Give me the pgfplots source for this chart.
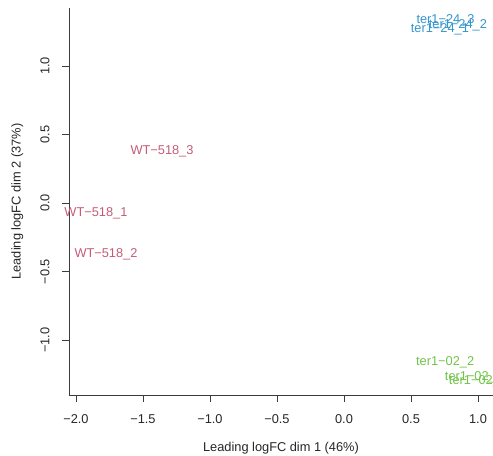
\documentclass[border=0pt]{standalone}
\usepackage{pgfplots}
\pgfplotsset{compat=1.18}
\usepackage{fontspec}
\setmainfont{Liberation Sans}
\definecolor{wtcol}{RGB}{196,92,120}
\definecolor{t24col}{RGB}{51,150,204}
\definecolor{t02col}{RGB}{112,196,72}
\definecolor{axcol}{RGB}{60,60,60}
\newcommand{\fs}{\fontsize{9.6}{11}\selectfont}
\begin{document}
\begin{tikzpicture}
\begin{axis}[
  scale only axis,
  width=318pt, height=290.25pt,
  xmin=-2.052, xmax=1.112,
  ymin=-1.401, ymax=1.423,
  axis lines*=left,
  axis line style={axcol, line width=0.6pt},
  tick style={axcol, line width=0.6pt},
  tick align=outside,
  major tick length=5pt,
  xtick={-2,-1.5,-1,-0.5,0,0.5,1},
  xticklabels={−2.0,−1.5,−1.0,−0.5,0.0,0.5,1.0},
  ytick={-1,-0.5,0,0.5,1},
  yticklabels={−1.0,−0.5,0.0,0.5,1.0},
  ticklabel style={font=\fs, text=black!85},
  xticklabel style={yshift=-6.5pt},
  yticklabel style={rotate=90, anchor=south, yshift=6pt},
  xlabel={Leading logFC dim 1 (46\%)},
  ylabel={Leading logFC dim 2 (37\%)},
  label style={font=\fs, text=black!85},
  xlabel style={yshift=-7pt},
  ylabel style={yshift=6pt},
  clip=true,
  nodes near coords,
  point meta=explicit symbolic,
]
\addplot[only marks, mark=none, nodes near coords style={anchor=center, text=wtcol, font=\fs}]
  table[meta=label] {
x y label
-1.358 0.380 WT−518\_3
-1.851 -0.073 WT−518\_1
-1.776 -0.372 WT−518\_2
};
\addplot[only marks, mark=none, nodes near coords style={anchor=center, text=t24col, font=\fs}]
  table[meta=label] {
x y label
0.758 1.330 ter1−24\_3
0.850 1.295 ter1−24\_2
0.716 1.265 ter1−24\_1
};
\addplot[only marks, mark=none, nodes near coords style={anchor=center, text=t02col, font=\fs}]
  table[meta=label] {
x y label
0.755 -1.160 ter1−02\_2
0.970 -1.270 ter1−02\_1
1.000 -1.299 ter1−02\_3
};
\end{axis}
\pgfresetboundingbox
\path[use as bounding box] ([xshift=-51.75pt, yshift=-45pt]current axis.south west) rectangle ([yshift=6pt]current axis.north east);
\end{tikzpicture}
\end{document}
